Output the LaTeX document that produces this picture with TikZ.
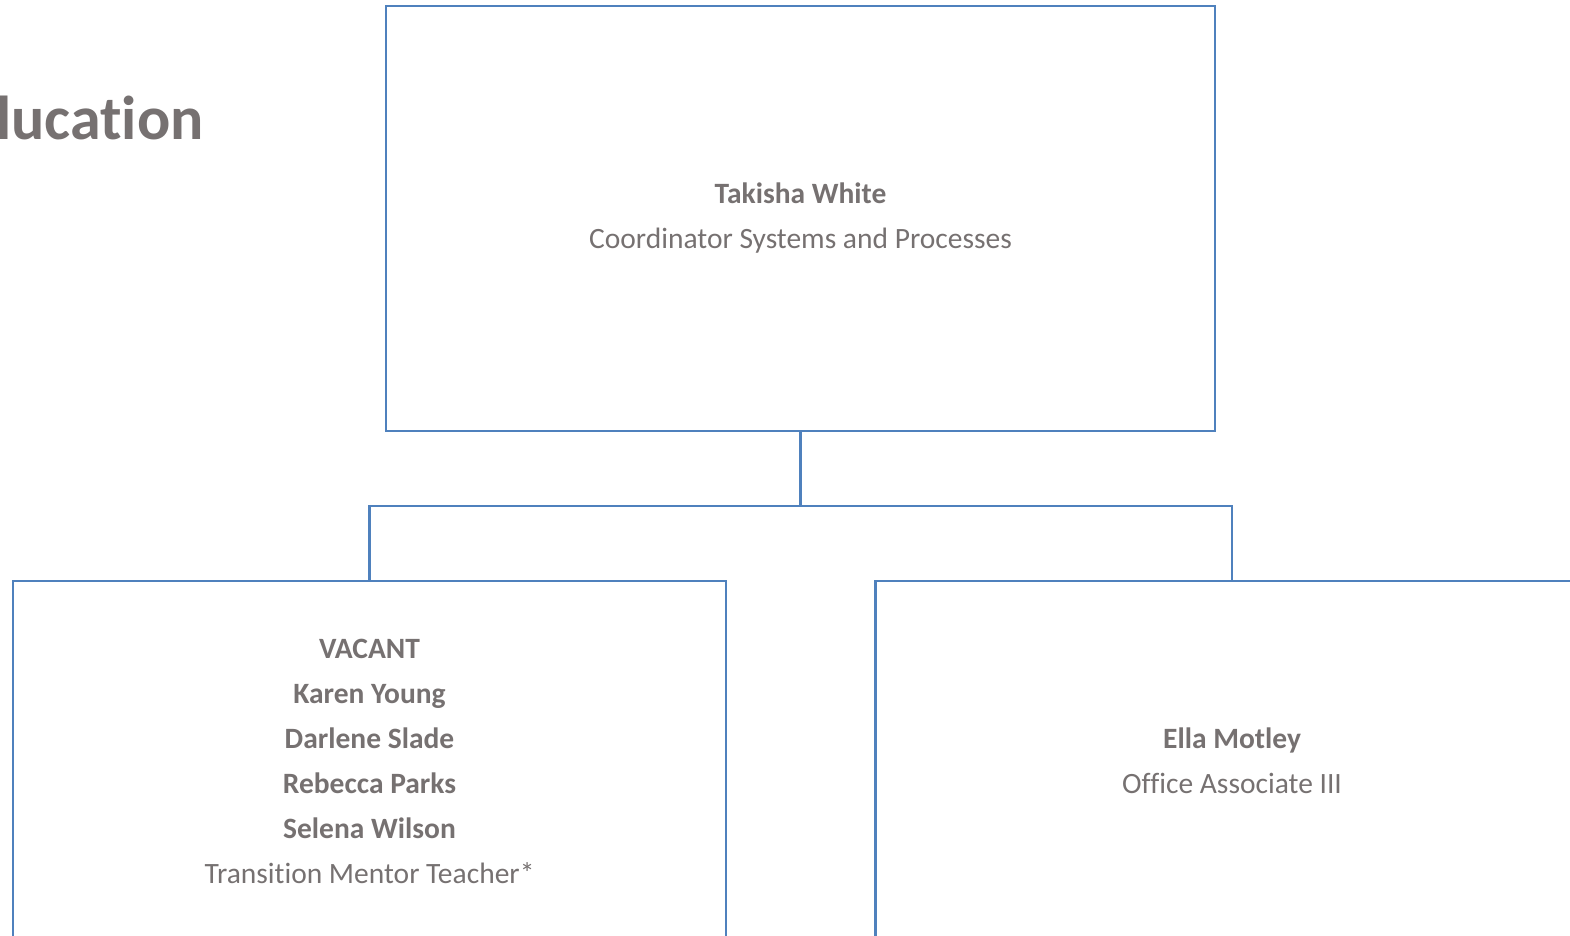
\documentclass[tikz,border=0pt]{standalone}
\usepackage{fontspec}
\setmainfont{Carlito}[Ligatures=NoCommon]
\usetikzlibrary{positioning}
\definecolor{chartblue}{RGB}{79,129,189}
\definecolor{chartgray}{RGB}{118,113,113}

\begin{document}
\begin{tikzpicture}
            [x=1pt, y=-1pt,
             box/.style={draw=chartblue, line width=2.5pt, rectangle, align=center,
                         text=chartgray, font=\fontsize{29.5}{45}\selectfont},
             link/.style={draw=chartblue, line width=2.5pt}]
            \useasboundingbox (0,0) rectangle (1570,936);

            \node[anchor=base west, text=chartgray, inner sep=0pt,
                  font=\fontsize{62}{62}\selectfont\bfseries] (title) at (-4,140) {lucation};

            \node[box, minimum width=829pt, minimum height=425pt] (top) at (800.5,218.5)
                {\textbf{Takisha White}\\Coordinator Systems and Processes};
            \node[box, minimum width=713pt, minimum height=360pt] (left) at (369.5,761)
                {\textbf{VACANT}\\\textbf{Karen Young}\\\textbf{Darlene Slade}\\\textbf{Rebecca Parks}\\\textbf{Selena Wilson}\\Transition Mentor Teacher*};
            \node[box, minimum width=713pt, minimum height=360pt] (right) at (1232,761)
                {\textbf{Ella Motley}\\Office Associate III};

            \coordinate (mid) at (800.5,506);
            \draw[link] (top.south) -- (mid);
            \draw[link] (left.north) |- (mid) -| (right.north);
        \end{tikzpicture}
\end{document}
